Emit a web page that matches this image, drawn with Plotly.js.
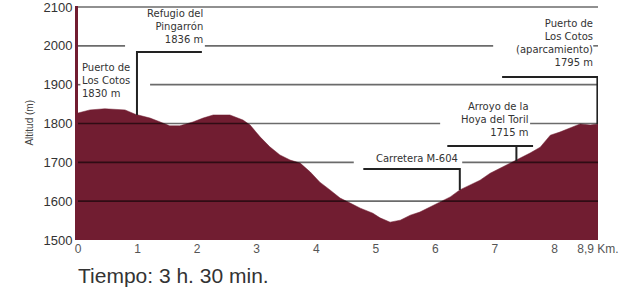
<!DOCTYPE html>
<html>
<head>
<meta charset="utf-8">
<script src="https://cdn.plot.ly/plotly-3.0.1.min.js"></script>
<style>html,body{margin:0;padding:0;background:#fff;}#chart{width:632px;height:300px;}</style>
</head>
<body>
<div id="chart"></div>
<script>
// ---- data ----
const distanceKm = [0, 0.2, 0.45, 0.71, 0.79, 0.96, 1.21, 1.38, 1.54, 1.71, 1.93, 2.10, 2.27, 2.55, 2.77, 2.89, 3.06, 3.22, 3.39, 3.56, 3.73, 3.90, 4.06, 4.23, 4.40, 4.57, 4.74, 4.95, 5.07, 5.24, 5.41, 5.58, 5.74, 5.91, 6.08, 6.25, 6.41, 6.58, 6.75, 6.92, 7.09, 7.25, 7.42, 7.59, 7.76, 7.93, 8.09, 8.26, 8.43, 8.60, 8.73];
const altitudeM = [1827, 1835, 1838, 1837, 1835, 1824, 1814, 1804, 1794, 1794, 1804, 1814, 1822, 1822, 1809, 1796, 1765, 1740, 1719, 1706, 1698, 1675, 1649, 1629, 1608, 1595, 1582, 1569, 1557, 1546, 1551, 1564, 1572, 1585, 1598, 1611, 1629, 1642, 1654, 1672, 1685, 1698, 1711, 1724, 1739, 1770, 1778, 1788, 1799, 1796, 1799];
const xTickVals = [0, 1, 2, 3, 4, 5, 6, 7, 8, 8.73];
const xTickText = ['0', '1', '2', '3', '4', '5', '6', '7', '8', '8,9 Km.'];
const yTickVals = [1500, 1600, 1700, 1800, 1900, 2000, 2100];
const gridLevels = [2100, 2000, 1900, 1800, 1700, 1600];
const placeLabels = [
  'Refugio del<br>Pingarrón<br>1836 m',
  'Puerto de<br>Los Cotos<br>1830 m',
  'Puerto de<br>Los Cotos<br>(aparcamiento)<br>1795 m',
  'Arroyo de la<br>Hoya del Toril<br>1715 m',
  'Carretera M-604'
];
const timeText = 'Tiempo: 3 h. 30 min.';
const yTitle = 'Altitud (m)';

// ---- styling / layout ----
const MAROON = '#711d31';
const XMAX = 8.73;
const YTOP = 2102.6;
// visible stretches of each gridline (gaps are where labels sit)
const gridSegments = {
  2100: [[0, XMAX]],
  2000: [[0, 0.79], [2.13, 6.97], [8.65, XMAX]],
  1900: [[0, 0.04], [1.21, 8.72]],
  1800: [[0, 6.08], [7.59, XMAX]],
  1700: [[0, 4.63], [6.45, XMAX]],
  1600: [[0, XMAX]]
};
const shapes = [];
gridLevels.forEach(lv => {
  gridSegments[lv].forEach(seg => {
    shapes.push({type: 'line', xref: 'x', yref: 'y', x0: seg[0], x1: seg[1], y0: lv, y1: lv,
      layer: 'above', line: {color: 'rgba(0,0,0,0.58)', width: 1.6}});
  });
});
const leaderStyle = {color: '#222', width: 2};
[
  'M 0.99,1822 V 1984 H 2.08',
  'M 7.12,1920 H 8.72 V 1799',
  'M 6.20,1742 H 7.64 M 7.36,1742 V 1703',
  'M 4.79,1683 H 6.41 V 1629'
].forEach(p => shapes.push({type: 'path', xref: 'x', yref: 'y', path: p, layer: 'above', line: leaderStyle}));

const labelFont = {family: 'DejaVu Sans', size: 10, color: '#333'};
const labelPos = [
  {x: 2.13, y: 2102, xanchor: 'right', align: 'right'},
  {x: 0.03, y: 1963, xanchor: 'left', align: 'left'},
  {x: 8.68, y: 2077, xanchor: 'right', align: 'right'},
  {x: 7.61, y: 1863, xanchor: 'right', align: 'right'},
  {x: 6.41, y: 1729, xanchor: 'right', align: 'right'}
];
const annotations = placeLabels.map((t, i) => Object.assign({
  text: t, xref: 'x', yref: 'y', yanchor: 'top', showarrow: false, font: labelFont
}, labelPos[i]));
annotations.push({text: timeText, xref: 'paper', yref: 'paper', x: -0.003, y: -0.095, xanchor: 'left', yanchor: 'top',
  showarrow: false, font: {family: 'Liberation Sans', size: 21, color: '#333'}});
annotations.push({text: yTitle, xref: 'paper', yref: 'paper', x: -0.095, y: 0.5, xanchor: 'center', yanchor: 'middle',
  textangle: -90, showarrow: false, font: {family: 'Liberation Sans', size: 10, color: '#444'}});

const trace = {
  x: distanceKm, y: altitudeM, type: 'scatter', mode: 'lines',
  fill: 'tozeroy', fillcolor: MAROON, line: {color: MAROON, width: 0.5}, hoverinfo: 'skip'
};

const layout = {
  width: 632, height: 300,
  margin: {l: 78, r: 34, t: 6, b: 60},
  paper_bgcolor: '#fff', plot_bgcolor: '#fff',
  showlegend: false,
  xaxis: {range: [0, XMAX], showgrid: false, zeroline: false, showline: false,
    tickmode: 'array', tickvals: xTickVals, ticktext: xTickText, ticks: '', ticklabeloverflow: 'allow',
    tickfont: {family: 'Liberation Sans', size: 12, color: '#555'}},
  yaxis: {range: [1500, YTOP], showgrid: false, zeroline: false, showline: true,
    linecolor: MAROON, linewidth: 3, tickmode: 'array', tickvals: yTickVals, ticks: '', ticklabeloverflow: 'allow',
    tickfont: {family: 'Liberation Sans', size: 13, color: '#333'}},
  shapes: shapes,
  annotations: annotations
};

Plotly.newPlot('chart', [trace], layout, {staticPlot: true, displayModeBar: false});
</script>
</body>
</html>
